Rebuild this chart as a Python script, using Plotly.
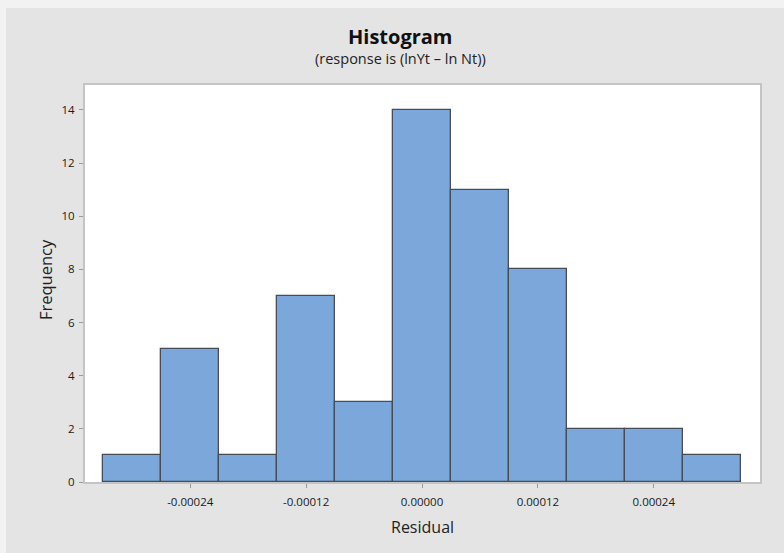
import plotly.graph_objects as go

bin_centers = [-0.00030, -0.00024, -0.00018, -0.00012, -0.00006, 0.0,
               0.00006, 0.00012, 0.00018, 0.00024, 0.00030]
frequencies = [1, 5, 1, 7, 3, 14, 11, 8, 2, 2, 1]
bin_width = 0.00006
x_tick_vals = [-0.00024, -0.00012, 0.0, 0.00012, 0.00024]
x_tick_text = ["-0.00024", "-0.00012", "0.00000", "0.00012", "0.00024"]
y_tick_vals = [0, 2, 4, 6, 8, 10, 12, 14]

W, H = 784, 553
L, R, T, B = 85, 24, 85, 71
pw, ph = W - L - R, H - T - B

def px(xpix):
    return (xpix - L) / pw

def py(ypix):
    return (H - B - ypix) / ph

fig = go.Figure(go.Bar(
    x=bin_centers, y=frequencies, width=[bin_width] * len(bin_centers),
    marker=dict(color="#7BA7DA", line=dict(color="#464C58", width=1.3)),
    hoverinfo="x+y",
))

font_family = "Open Sans, Noto Sans, DejaVu Sans, sans-serif"

fig.update_layout(
    width=W, height=H,
    margin=dict(l=L, r=R, t=T, b=B),
    paper_bgcolor="#E4E4E4",
    plot_bgcolor="#FFFFFF",
    showlegend=False,
    bargap=0,
    font=dict(family=font_family, color="#222222"),
    xaxis=dict(
        range=[-0.000349, 0.00035], tickvals=x_tick_vals, ticktext=x_tick_text,
        ticks="outside", ticklen=4, tickcolor="#9A9A9A", tickwidth=1,
        showgrid=False, zeroline=False, automargin=False,
        showline=True, linecolor="#C4C4C4", linewidth=2, mirror=True,
        tickfont=dict(size=11.5, color="#1A1A1A"),
        ticklabelstandoff=4,
    ),
    yaxis=dict(
        range=[0, 14.94], tickvals=y_tick_vals,
        ticks="outside", ticklen=4, tickcolor="#9A9A9A", tickwidth=1,
        showgrid=False, zeroline=False, automargin=False,
        showline=True, linecolor="#C4C4C4", linewidth=2, mirror=True,
        tickfont=dict(size=11.5, color="#1A1A1A"),
        ticklabelstandoff=2,
    ),
    annotations=[
        dict(text="<b>Histogram</b>", xref="paper", yref="paper", x=px(400), y=py(37),
             xanchor="center", yanchor="middle", showarrow=False,
             font=dict(size=20, color="#111111", family=font_family)),
        dict(text="(response is (lnYt \u2013 ln Nt))", xref="paper", yref="paper", x=px(400), y=py(58),
             xanchor="center", yanchor="middle", showarrow=False,
             font=dict(size=14.5, color="#222222", family=font_family)),
        dict(text="Residual", xref="paper", yref="paper", x=px(422), y=py(527),
             xanchor="center", yanchor="middle", showarrow=False,
             font=dict(size=16, color="#222222", family=font_family)),
        dict(text="Frequency", xref="paper", yref="paper", x=px(45), y=py(280),
             xanchor="center", yanchor="middle", showarrow=False, textangle=-90,
             font=dict(size=16.5, color="#222222", family=font_family)),
    ],
    shapes=[
        dict(type="rect", xref="paper", yref="paper", x0=px(-5), x1=px(6), y0=py(H + 5), y1=py(-5),
             line=dict(width=0), fillcolor="#F2F2F2", layer="below"),
        dict(type="rect", xref="paper", yref="paper", x0=px(-5), x1=px(W + 5), y0=py(8), y1=py(-5),
             line=dict(width=0), fillcolor="#F2F2F2", layer="below"),
    ],
)

fig.write_html("out.html", config={"displayModeBar": False},
               post_script="document.body.style.margin='0';document.body.style.padding='0';")
